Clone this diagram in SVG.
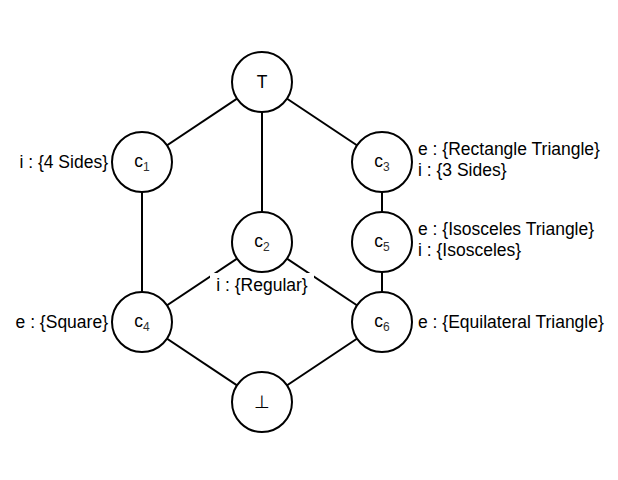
<svg xmlns="http://www.w3.org/2000/svg" width="618" height="480" viewBox="0 0 618 480">
<style>
.n{fill:#fff;stroke:#000;stroke-width:2}
.e{stroke:#000;stroke-width:2;fill:none}
text{font-family:"Liberation Sans",Arial,sans-serif;font-size:17.5px;fill:#000}
.c{text-anchor:middle}
.r{text-anchor:end}
.s{font-size:12px;fill:#333}
</style>
<rect width="618" height="480" fill="#fff"/>
<g id="connectors">
<line class="e" x1="262" y1="82" x2="142" y2="162"/>
<line class="e" x1="262" y1="82" x2="262" y2="242"/>
<line class="e" x1="262" y1="82" x2="382" y2="162"/>
<line class="e" x1="142" y1="162" x2="142" y2="322"/>
<line class="e" x1="382" y1="162" x2="382" y2="322"/>
<line class="e" x1="262" y1="242" x2="142" y2="322"/>
<line class="e" x1="262" y1="242" x2="382" y2="322"/>
<line class="e" x1="142" y1="322" x2="262" y2="402"/>
<line class="e" x1="382" y1="322" x2="262" y2="402"/>
</g>
<g id="top"><circle class="n" cx="262" cy="82" r="30"/><text class="c" x="262" y="88">T</text></g>
<g id="c1"><circle class="n" cx="142" cy="162" r="30"/><text class="c" x="142" y="167">c<tspan class="s" dy="4">1</tspan></text><text class="r" x="108" y="168">i : {4 Sides}</text></g>
<g id="c3"><circle class="n" cx="382" cy="162" r="30"/><text class="c" x="382" y="167">c<tspan class="s" dy="4">3</tspan></text><text x="418" y="155">e : {Rectangle Triangle}</text><text x="418" y="176">i : {3 Sides}</text></g>
<g id="c2"><circle class="n" cx="262" cy="242" r="30"/><text class="c" x="262" y="247">c<tspan class="s" dy="4">2</tspan></text><rect x="210" y="273" width="104" height="24" fill="#fff"/><text class="c" x="262" y="291">i : {Regular}</text></g>
<g id="c5"><circle class="n" cx="382" cy="242" r="30"/><text class="c" x="382" y="247">c<tspan class="s" dy="4">5</tspan></text><text x="418" y="235">e : {Isosceles Triangle}</text><text x="418" y="256">i : {Isosceles}</text></g>
<g id="c4"><circle class="n" cx="142" cy="322" r="30"/><text class="c" x="142" y="327">c<tspan class="s" dy="4">4</tspan></text><text class="r" x="108" y="328">e : {Square}</text></g>
<g id="c6"><circle class="n" cx="382" cy="322" r="30"/><text class="c" x="382" y="327">c<tspan class="s" dy="4">6</tspan></text><text x="418" y="328">e : {Equilateral Triangle}</text></g>
<g id="bottom"><circle class="n" cx="262" cy="402" r="30"/><text class="c" x="262" y="408">⊥</text></g>
</svg>
